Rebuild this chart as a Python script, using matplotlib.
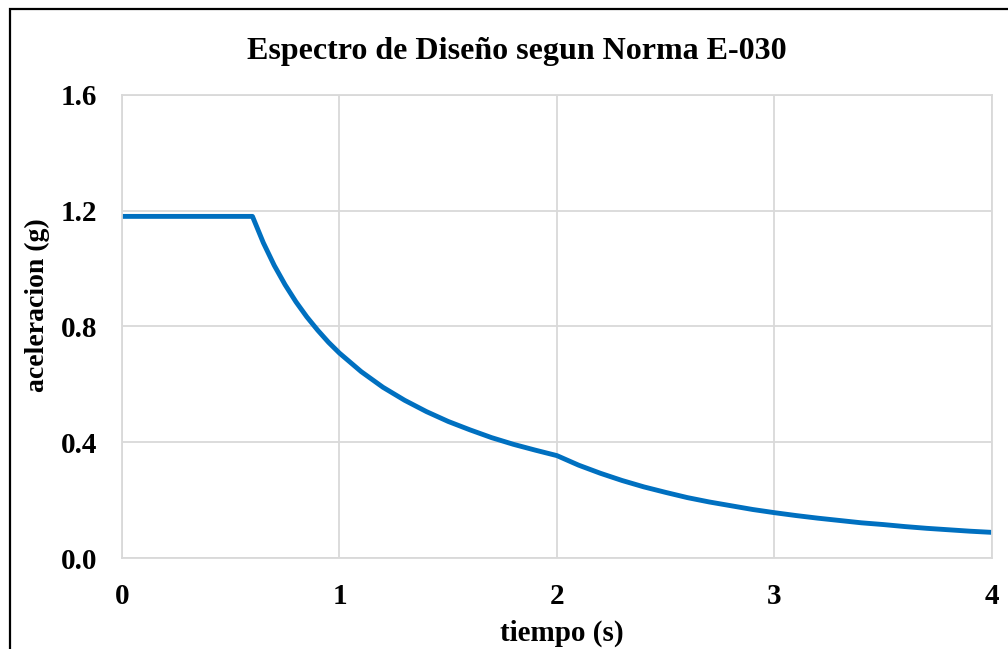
import matplotlib
matplotlib.use('Agg')
import matplotlib.pyplot as plt
from matplotlib.patches import Rectangle

plt.rcParams['font.family'] = ['Liberation Serif', 'DejaVu Serif']
plt.rcParams['font.weight'] = 'bold'

# Spectrum (T in s, Sa in g)
periodo = [0.0, 0.1, 0.2, 0.3, 0.4, 0.5, 0.6, 0.65, 0.7, 0.75, 0.8, 0.85, 0.9, 0.95, 1.0,
           1.1, 1.2, 1.3, 1.4, 1.5, 1.6, 1.7, 1.8, 1.9, 2.0,
           2.1, 2.2, 2.3, 2.4, 2.5, 2.6, 2.7, 2.8, 2.9, 3.0,
           3.1, 3.2, 3.3, 3.4, 3.5, 3.6, 3.7, 3.8, 3.9, 4.0]
aceleracion = [1.18, 1.18, 1.18, 1.18, 1.18, 1.18, 1.18, 1.089, 1.011, 0.944, 0.885, 0.833,
               0.787, 0.745, 0.708,
               0.644, 0.590, 0.545, 0.506, 0.472, 0.443, 0.416, 0.393, 0.373, 0.354,
               0.321, 0.293, 0.268, 0.246, 0.227, 0.209, 0.194, 0.181, 0.168, 0.157,
               0.147, 0.138, 0.130, 0.122, 0.116, 0.109, 0.103, 0.098, 0.093, 0.089]

x_ticks = [0, 1, 2, 3, 4]
y_ticks = [0.0, 0.4, 0.8, 1.2, 1.6]

fig = plt.figure(figsize=(10.08, 6.49), dpi=100)
ax = fig.add_axes([0.121, 0.140, 0.863, 0.714])

ax.plot(periodo, aceleracion, color='#0070C0', linewidth=3.5,
        solid_capstyle='butt', solid_joinstyle='round')

ax.set_xlim(0, 4)
ax.set_ylim(0, 1.6)
ax.set_xticks(x_ticks)
ax.set_yticks(y_ticks)
ax.set_yticklabels([f'{v:.1f}' for v in y_ticks])
ax.tick_params(length=0, labelsize=21, pad=18)
for lab in ax.get_xticklabels() + ax.get_yticklabels():
    lab.set_fontweight('bold')

ax.grid(True, color='#d9d9d9', linewidth=1.3)
ax.set_axisbelow(True)
for sp in ax.spines.values():
    sp.set_color('#d9d9d9')
    sp.set_linewidth(1.3)

fig.text(0.513, 0.920, 'Espectro de Diseño segun Norma E-030', ha='center', va='center',
         fontsize=23, fontweight='bold')
fig.text(0.557, 0.024, 'tiempo (s)', ha='center', va='center', fontsize=21, fontweight='bold')
fig.text(0.037, 0.530, 'aceleracion (g)', ha='center', va='center', rotation=90,
         fontsize=20, fontweight='bold')

# outer chart border (only left and top edges fall inside the picture)
fig.patches.append(Rectangle((0.010, -0.5), 1.5, 0.5 + 0.986, transform=fig.transFigure,
                             fill=False, edgecolor='black', linewidth=1.6, clip_on=False))

fig.savefig('out.png', dpi=100)
